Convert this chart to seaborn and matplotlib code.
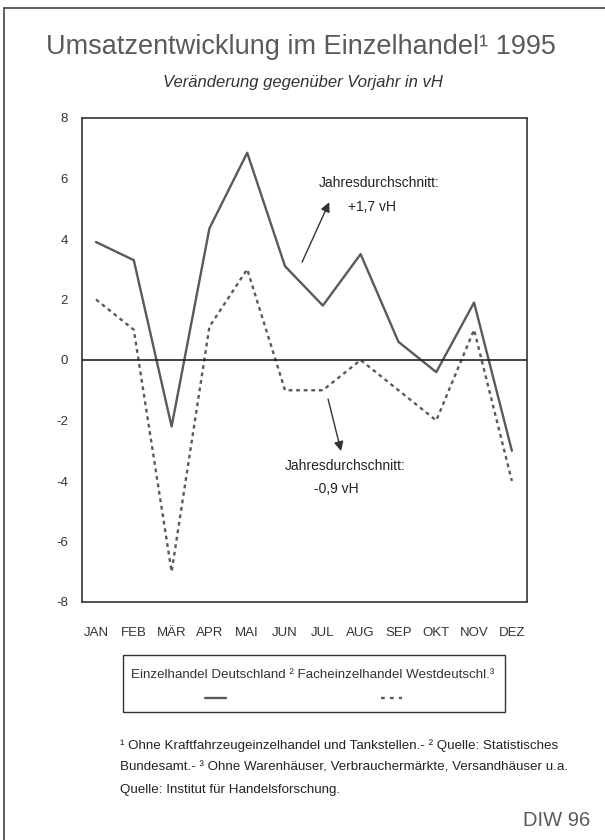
import numpy as np
import pandas as pd
import seaborn as sns
import matplotlib.pyplot as plt
from matplotlib.lines import Line2D

# Data
months = ["JAN", "FEB", "MÄR", "APR", "MAI", "JUN", "JUL", "AUG", "SEP", "OKT", "NOV", "DEZ"]
einzelhandel_de = [3.9, 3.3, -2.2, 4.35, 6.85, 3.1, 1.8, 3.5, 0.6, -0.4, 1.9, -3.0]
fach_west = [2.0, 1.0, -7.0, 1.1, 3.0, -1.0, -1.0, 0.0, -1.0, -2.0, 1.0, -4.0]
yticks = [8, 6, 4, 2, 0, -2, -4, -6, -8]

df = pd.DataFrame({"monat": np.arange(len(months)),
                   "de": einzelhandel_de, "west": fach_west})

sns.set_style("white")
plt.rcParams["font.family"] = ["Liberation Sans", "DejaVu Sans"]

GRAY = "#5a5a5a"
fig = plt.figure(figsize=(6.05, 8.4), dpi=100)
ax = fig.add_axes([82 / 605, 1 - 602 / 840, 445 / 605, 484 / 840])

sns.lineplot(data=df, x="monat", y="de", ax=ax, color=GRAY, lw=1.7)
sns.lineplot(data=df, x="monat", y="west", ax=ax, color=GRAY, lw=1.7,
             linestyle=(0, (1.6, 1.6)))
ax.axhline(0, color="#222222", lw=1.2)

ax.set_xlim(-0.37, 11.4)
ax.set_ylim(-8, 8)
ax.set_yticks(yticks)
ax.set_yticklabels([str(v) for v in yticks])
ax.set_xticks(df["monat"])
ax.set_xticklabels(months)
ax.set_xlabel("")
ax.set_ylabel("")
ax.tick_params(axis="y", length=0, pad=10, labelsize=9.5, labelcolor="#333333")
ax.tick_params(axis="x", length=0, pad=18, labelsize=9.5, labelcolor="#333333")
for s in ax.spines.values():
    s.set_color("#333333")
    s.set_linewidth(1.2)

# annotations
ax.annotate("", xy=(6.2, 5.3), xytext=(5.42, 3.15),
            arrowprops=dict(arrowstyle="-|>", color="#333333", lw=1.0, mutation_scale=14))
ax.text(7.5, 5.85, "Jahresdurchschnitt:", fontsize=10, color="#222222", ha="center", va="center")
ax.text(7.3, 5.05, "+1,7 vH", fontsize=10, color="#222222", ha="center", va="center")
ax.annotate("", xy=(6.5, -3.1), xytext=(6.12, -1.2),
            arrowprops=dict(arrowstyle="-|>", color="#333333", lw=1.0, mutation_scale=14))
ax.text(6.6, -3.5, "Jahresdurchschnitt:", fontsize=10, color="#222222", ha="center", va="center")
ax.text(6.35, -4.25, "-0,9 vH", fontsize=10, color="#222222", ha="center", va="center")

# titles
fig.text(0.497, 1 - 47 / 840, "Umsatzentwicklung im Einzelhandel¹ 1995", ha="center", va="center",
         fontsize=19.5, color=GRAY)
fig.text(0.5, 1 - 82 / 840, "Veränderung gegenüber Vorjahr in vH", ha="center", va="center",
         fontsize=12, style="italic", color="#333333")

# legend box
fig.patches.append(plt.Rectangle((123 / 605, 1 - 712 / 840), 382 / 605, 57 / 840,
                                 transform=fig.transFigure, fill=False, ec="#333333", lw=1.0))
fig.text(313 / 605, 1 - 675 / 840, "Einzelhandel Deutschland ² Facheinzelhandel Westdeutschl.³",
         ha="center", va="center", fontsize=9.6, color="#333333")
fig.add_artist(Line2D([205 / 605, 226 / 605], [1 - 698 / 840] * 2, color=GRAY, lw=1.7))
fig.add_artist(Line2D([381 / 605, 402 / 605], [1 - 698 / 840] * 2, color=GRAY, lw=1.7,
                      linestyle=(0, (1.6, 2.2))))

# footnotes
notes = ["¹ Ohne Kraftfahrzeugeinzelhandel und Tankstellen.- ² Quelle: Statistisches",
         "Bundesamt.- ³ Ohne Warenhäuser, Verbrauchermärkte, Versandhäuser u.a.",
         "Quelle: Institut für Handelsforschung."]
for i, line in enumerate(notes):
    fig.text(120 / 605, 1 - (746 + 22 * i) / 840, line, ha="left", va="center",
             fontsize=9.6, color="#222222")
fig.text(590 / 605, 1 - 820 / 840, "DIW 96", ha="right", va="center", fontsize=14.5,
         color=GRAY)

# page frame
fig.add_artist(Line2D([4 / 605, 4 / 605], [0, 1 - 8 / 840], color="#444444", lw=1.2))
fig.add_artist(Line2D([4 / 605, 1], [1 - 8 / 840] * 2, color="#444444", lw=1.2))

fig.savefig("out.png", dpi=100)
